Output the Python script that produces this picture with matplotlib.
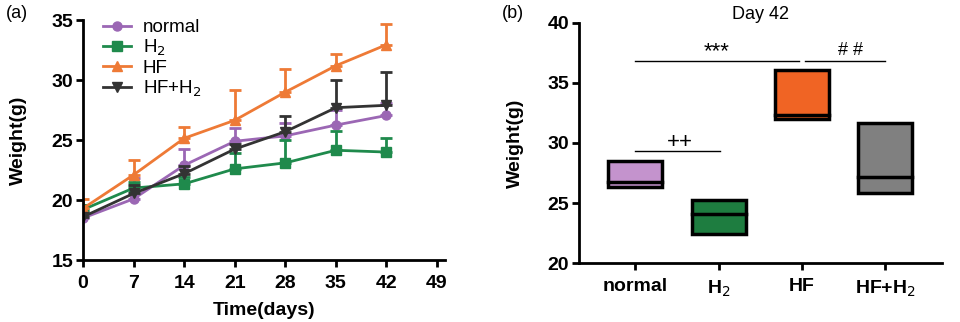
import numpy as np
import matplotlib.pyplot as plt

plt.rcParams['font.family'] = ['Liberation Sans', 'DejaVu Sans']

# panel (a) data: body weight over time
days = [0, 7, 14, 21, 28, 35, 42]
normal_mean = [18.5, 20.1, 22.9, 24.9, 25.35, 26.25, 27.05]
normal_sd = [0.5, 1.7, 1.35, 1.1, 1.05, 1.25, 1.05]
h2_mean = [19.2, 21.0, 21.35, 22.6, 23.1, 24.15, 24.0]
h2_sd = [0.4, 0.5, 0.6, 1.3, 1.9, 1.6, 1.2]
hf_mean = [19.3, 22.1, 25.15, 26.65, 29.0, 31.2, 32.95]
hf_sd = [0.8, 1.25, 0.9, 2.55, 1.9, 1.0, 1.7]
hfh2_mean = [18.6, 20.55, 22.2, 24.25, 25.7, 27.7, 27.9]
hfh2_sd = [0.3, 0.7, 0.6, 0.45, 1.3, 2.3, 2.8]

# panel (b) data: day 42 floating bars (min, max, line)
groups = ['normal', 'H$_2$', 'HF', 'HF+H$_2$']
box_low = [26.35, 22.4, 32.0, 25.8]
box_high = [28.5, 25.25, 36.1, 31.7]
box_mid = [26.75, 24.1, 32.3, 27.2]

line_colors = ['#9b67b4', '#1f8a4c', '#ee7a36', '#333333']
box_colors = ['#c493cd', '#1e7d40', '#f06424', '#808080']

fig = plt.figure(figsize=(9.6, 3.22), dpi=100)

# ---- panel (a)
ax1 = fig.add_axes([0.0865, 0.1925, 0.377, 0.745])
series = [(normal_mean, normal_sd, 'o', 'normal'),
          (h2_mean, h2_sd, 's', 'H$_2$'),
          (hf_mean, hf_sd, '^', 'HF'),
          (hfh2_mean, hfh2_sd, 'v', 'HF+H$_2$')]
handles = []
for (m, s, mk, lab), c in zip(series, line_colors):
    ax1.errorbar(days, m, yerr=[np.zeros(len(s)), s], fmt='none', ecolor=c,
                 elinewidth=2, capsize=4, capthick=2)
    h, = ax1.plot(days, m, color=c, marker=mk, markersize=6.5, lw=2, label=lab)
    handles.append(h)

ax1.set_xlim(0, 50.1)
ax1.set_ylim(15, 35)
ax1.set_xticks(range(0, 50, 7))
ax1.set_yticks([15, 20, 25, 30, 35])
ax1.spines['top'].set_visible(False)
ax1.spines['right'].set_visible(False)
for sp in ['left', 'bottom']:
    ax1.spines[sp].set_linewidth(2)
ax1.tick_params(width=2, length=5)
ax1.tick_params(axis='x', pad=6)
ax1.tick_params(axis='y', pad=2)
for t in ax1.get_xticklabels() + ax1.get_yticklabels():
    t.set_fontsize(14)
    t.set_fontweight('bold')
ax1.set_xlabel('Time(days)', fontsize=14, fontweight='bold', labelpad=7)
ax1.set_ylabel('Weight(g)', fontsize=14, fontweight='bold', labelpad=18)
ax1.legend(handles=handles, loc='upper left', bbox_to_anchor=(0.035, 1.035),
           frameon=False, fontsize=13.5, handlelength=1.5, handletextpad=0.6,
           labelspacing=0.08, borderaxespad=0)

# ---- panel (b)
ax2 = fig.add_axes([0.603, 0.183, 0.378, 0.746])
xpos = np.arange(len(groups))
ax2.bar(xpos, np.array(box_high) - np.array(box_low), bottom=box_low, width=0.65,
        color=box_colors, edgecolor='black', linewidth=2.5, zorder=2)
for x, y in zip(xpos, box_mid):
    ax2.plot([x - 0.325, x + 0.325], [y, y], color='black', lw=2.5, zorder=3)

# significance annotations
ax2.plot([0.0, 1.96], [36.8, 36.8], color='black', lw=1)
ax2.text(0.98, 36.75, '***', ha='center', va='bottom', fontsize=16)
ax2.plot([2.03, 3.0], [36.8, 36.8], color='black', lw=1)
ax2.text(2.58, 37.0, '# #', ha='center', va='bottom', fontsize=13)
ax2.plot([0.0, 1.02], [29.35, 29.35], color='black', lw=1)
ax2.text(0.54, 29.2, '++', ha='center', va='bottom', fontsize=16)

ax2.set_xlim(-0.676, 3.676)
ax2.set_ylim(20, 40)
ax2.set_xticks(xpos)
ax2.set_xticklabels(groups)
ax2.set_yticks([20, 25, 30, 35, 40])
ax2.spines['top'].set_visible(False)
ax2.spines['right'].set_visible(False)
for sp in ['left', 'bottom']:
    ax2.spines[sp].set_linewidth(2)
ax2.tick_params(width=2, length=5)
ax2.tick_params(axis='x', pad=6)
ax2.tick_params(axis='y', pad=2)
for t in ax2.get_xticklabels():
    t.set_fontsize(14)
    t.set_fontweight('bold')
for t in ax2.get_yticklabels():
    t.set_fontsize(14)
    t.set_fontweight('bold')
ax2.set_ylabel('Weight(g)', fontsize=14, fontweight='bold', labelpad=17)
ax2.set_title('Day 42', fontsize=13, pad=3)

fig.text(0.006, 0.985, '(a)', fontsize=13, va='top')
fig.text(0.523, 0.985, '(b)', fontsize=13, va='top')

fig.savefig('out.png', dpi=100)
